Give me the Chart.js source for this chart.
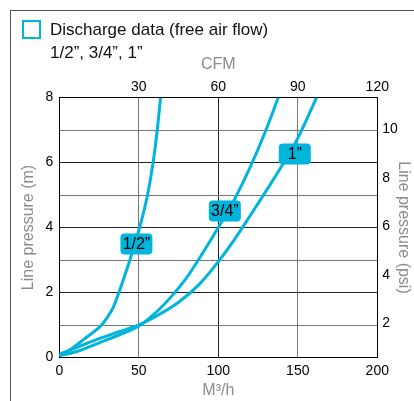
<!DOCTYPE html>
<html>
<head>
<meta charset="utf-8">
<script src="https://cdn.jsdelivr.net/npm/chart.js@4.4.0/dist/chart.umd.min.js"></script>
<style>
  body { margin: 0; background: #fff; font-family: 'Liberation Sans', Arial, sans-serif; }
  #wrap { position: relative; width: 414px; height: 401px; overflow: hidden; }
  #frame { position: absolute; left: 10px; top: 10px; width: 420px; height: 420px;
           border-left: 1px solid #555; border-top: 1px solid #555; }
  #icon { position: absolute; left: 22px; top: 20px; width: 15px; height: 15px; border: 2px solid #00b4dc; }
  .title { position: absolute; left: 50px; font-size: 17px; color: #111; line-height: 20px; white-space: nowrap; }
  canvas { position: absolute; left: 0; top: 0; }
</style>
</head>
<body>
<div id="wrap">
  <canvas id="airChart" width="414" height="401"></canvas>
  <div id="frame"></div>
  <div id="icon"></div>
  <div class="title" style="top:20px">Discharge data (free air flow)</div>
  <div class="title" style="top:43px">1/2”, 3/4”, 1”</div>
</div>
<script>
// flow in m3/h, pressure in m
const halfFlow = [0, 8, 16, 24, 26.6, 30, 34, 37.5, 41, 44.4, 50.5, 55.5, 59, 61.6, 63.7];
const halfPressure = [0.05, 0.28, 0.58, 0.88, 1.0, 1.22, 1.55, 2.0, 2.5, 3.0, 4.0, 5.0, 6.0, 7.0, 8.0];
const threeQuarterFlow = [0, 12, 25, 38, 50, 60, 70, 80, 90, 100, 110, 120, 130, 137.7];
const threeQuarterPressure = [0.05, 0.2, 0.45, 0.7, 0.97, 1.35, 1.85, 2.45, 3.2, 4.0, 4.85, 5.85, 7.0, 8.0];
const oneFlow = [0, 12, 25, 38, 50, 62, 75, 88, 100, 110, 120, 130, 140, 150, 161.8];
const onePressure = [0.1, 0.33, 0.58, 0.8, 1.0, 1.3, 1.7, 2.25, 2.95, 3.62, 4.36, 5.12, 5.9, 6.75, 8.0];

const labelText = ['1/2”', '3/4”', '1”'];
const labelFlow = [48.5, 104.1, 148.1];
const labelPressure = [3.49, 4.51, 6.26];

const cfmTicks = [30, 60, 90, 120];
const psiTicks = [2, 4, 6, 8, 10];

const cyan = '#00b4dc';
const axisGray = '#8c8c8c';

Chart.defaults.font.family = "'Liberation Sans', Arial, sans-serif";

function toPoints(xs, ys) {
    return xs.map((x, i) => ({ x: x, y: ys[i] }));
}

function curve(xs, ys) {
    return {
        data: toPoints(xs, ys),
        borderColor: cyan,
        borderWidth: 3,
        pointRadius: 0,
        cubicInterpolationMode: 'monotone',
        xAxisID: 'x',
        yAxisID: 'y'
    };
}

const tagPlugin = {
    id: 'tags',
    afterDatasetsDraw(chart) {
        const ctx = chart.ctx;
        const sx = chart.scales.x, sy = chart.scales.y;
        ctx.save();
        ctx.font = "16px 'Liberation Sans', Arial, sans-serif";
        ctx.textAlign = 'center';
        ctx.textBaseline = 'middle';
        labelText.forEach((t, i) => {
            const cx = sx.getPixelForValue(labelFlow[i]);
            const cy = sy.getPixelForValue(labelPressure[i]);
            ctx.fillStyle = cyan;
            ctx.beginPath();
            ctx.roundRect(cx - 16, cy - 10.5, 32, 21, 4);
            ctx.fill();
            ctx.fillStyle = '#000';
            ctx.fillText(t, cx, cy + 1);
        });
        ctx.restore();
    }
};

const tickFont = { size: 14 };
const titleFont = { size: 16 };

new Chart(document.getElementById('airChart').getContext('2d'), {
    type: 'line',
    data: {
        datasets: [
            curve(halfFlow, halfPressure),
            curve(threeQuarterFlow, threeQuarterPressure),
            curve(oneFlow, onePressure)
        ]
    },
    options: {
        responsive: false,
        animation: false,
        layout: { padding: 0 },
        plugins: { legend: { display: false }, tooltip: { enabled: false } },
        scales: {
            x: {
                type: 'linear', position: 'bottom', min: 0, max: 200,
                ticks: { stepSize: 50, padding: 5, color: '#000', font: tickFont },
                grid: { drawTicks: false, color: c => (c.tick.value === 100 ? '#222' : '#777') },
                border: { color: '#000' },
                title: { display: true, text: 'M³/h', color: axisGray, font: titleFont, padding: { top: 0, bottom: 1 } },
                afterFit(s) { s.height = 43.5; }
            },
            x2: {
                type: 'linear', position: 'top', min: 0, max: 120,
                afterBuildTicks(s) { s.ticks = cfmTicks.map(v => ({ value: v })); },
                ticks: { padding: 2, color: '#000', font: tickFont },
                grid: { display: false, drawTicks: false },
                border: { color: '#000' },
                title: { display: true, text: 'CFM', color: axisGray, font: titleFont, padding: { top: 55, bottom: 0 } },
                afterFit(s) { s.height = 97.5; }
            },
            y: {
                position: 'left', min: 0, max: 8,
                ticks: { stepSize: 1, padding: 6, color: '#000', font: tickFont, callback: v => (v % 2 ? '' : v) },
                grid: { drawTicks: false, color: c => (c.tick.value % 2 ? '#777' : '#222') },
                border: { color: '#000' },
                title: { display: true, text: 'Line pressure (m)', color: axisGray, font: titleFont, padding: { top: 19, bottom: 0 } },
                afterFit(s) { s.width = 59.3; }
            },
            y2: {
                position: 'right', min: 0.6, max: 11.3,
                afterBuildTicks(s) { s.ticks = psiTicks.map(v => ({ value: v })); },
                ticks: { padding: 5, color: '#000', font: tickFont },
                grid: { display: false, drawTicks: false },
                border: { color: '#000' },
                title: { display: true, text: 'Line pressure (psi)', color: axisGray, font: titleFont, padding: { top: 1, bottom: 0 } },
                afterFit(s) { s.width = 36.7; }
            }
        }
    },
    plugins: [tagPlugin]
});
</script>
</body>
</html>
